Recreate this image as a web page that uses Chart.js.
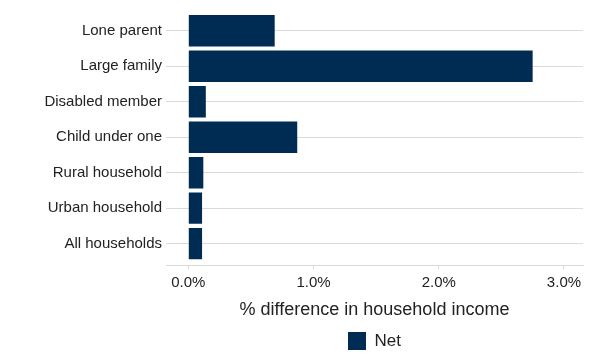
<!DOCTYPE html>
<html>
<head>
<meta charset="utf-8">
<script src="https://cdn.jsdelivr.net/npm/chart.js@4/dist/chart.umd.min.js"></script>
<style>
  html, body { margin: 0; padding: 0; background: #fff; }
  #wrap { width: 593px; height: 360px; }
</style>
</head>
<body>
<div id="wrap"><canvas id="myChart"></canvas></div>
<script>
// categories, top to bottom
const categories = ['Lone parent', 'Large family', 'Disabled member', 'Child under one',
  'Rural household', 'Urban household', 'All households'];
// net % difference in household income
const netValues = [0.69, 2.75, 0.14, 0.87, 0.12, 0.11, 0.11];
const tickValues = [0, 1, 2, 3];

const navy = '#002c54';
const grey = '#dadada';
const ink = '#222222';

const tweaks = {
  id: 'tweaks',
  afterLayout(chart) {
    // small gap between the last bar band and the x axis line (like ggplot expansion)
    chart.scales.x.top += 4;
  },
  beforeDraw(chart) {
    // centre the legend under the plot area, not the whole canvas
    chart.legend.left = chart.chartArea.left;
    chart.legend.right = chart.chartArea.right;
  }
};

new Chart(document.getElementById('myChart'), {
  type: 'bar',
  data: {
    labels: categories,
    datasets: [{
      label: 'Net',
      data: netValues,
      backgroundColor: navy,
      borderWidth: 0,
      categoryPercentage: 1,
      barPercentage: 0.885
    }]
  },
  options: {
    indexAxis: 'y',
    responsive: true,
    maintainAspectRatio: false,
    animation: false,
    layout: { padding: { top: 12, right: 10, left: 0, bottom: 0 } },
    scales: {
      x: {
        min: -0.178,
        max: 3.152,
        afterBuildTicks: (scale) => {
          scale.ticks = tickValues.map(v => ({ value: v }));
        },
        grid: { drawOnChartArea: false, tickLength: 4, color: grey },
        border: { color: grey },
        ticks: {
          color: ink,
          font: { family: 'Liberation Sans, Arial', size: 15 },
          padding: 4,
          callback: v => v.toFixed(1) + '%'
        },
        title: {
          display: true,
          text: '% difference in household income',
          color: ink,
          font: { family: 'Liberation Sans, Arial', size: 18 },
          padding: { top: 8, bottom: 3 }
        }
      },
      y: {
        afterFit: (scale) => { scale.width = 166; },
        grid: { color: grey, drawTicks: false, offset: false },
        border: { display: false },
        ticks: {
          color: ink,
          font: { family: 'Liberation Sans, Arial', size: 15 },
          padding: 4
        }
      }
    },
    plugins: {
      tooltip: { enabled: false },
      legend: {
        position: 'bottom',
        labels: {
          boxWidth: 18,
          boxHeight: 18,
          padding: 8,
          color: ink,
          font: { family: 'Liberation Sans, Arial', size: 17 }
        }
      }
    }
  },
  plugins: [tweaks]
});
</script>
</body>
</html>
